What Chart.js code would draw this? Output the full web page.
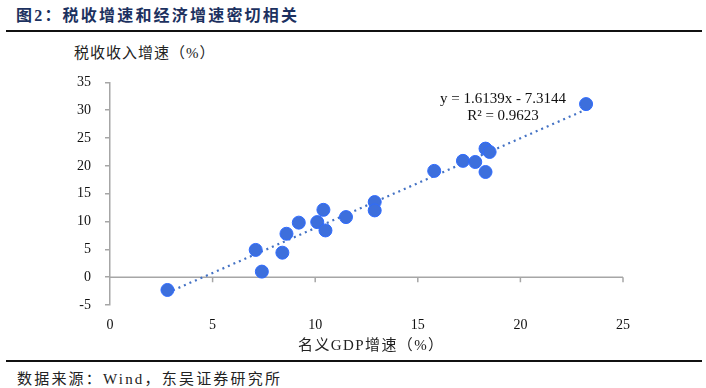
<!DOCTYPE html>
<html lang="zh">
<head>
<meta charset="UTF-8" />
<title>税收增速和经济增速</title>
<script src="https://cdn.jsdelivr.net/npm/chart.js"></script>
<style>
  body { margin: 0; background: #fff; }
  .page { position: relative; width: 706px; height: 388px; overflow: hidden; font-family: "Liberation Serif", "Noto Sans CJK SC", serif; }
  .titulo { position: absolute; left: 16px; top: 2px; font-size: 16px; font-weight: bold; color: #1c3160; letter-spacing: 2.2px; }
  .linha { position: absolute; left: 6px; right: 4px; height: 2px; background: #111; }
  .ytitle { position: absolute; left: 74px; top: 41px; font-size: 15px; color: #222; letter-spacing: 1px; }
  .xtitle { position: absolute; left: 298px; top: 333px; font-size: 15px; color: #222; letter-spacing: 1.4px; }
  .eq { position: absolute; left: 430px; top: 90px; width: 146px; text-align: center; font-size: 15px; line-height: 17px; color: #111; }
  .fonte { position: absolute; left: 17px; top: 367px; font-size: 15px; color: #222; letter-spacing: 2.2px; }
  .grafico { position: absolute; left: 0; top: 60px; width: 706px; height: 300px; }
</style>
</head>
<body>
<div class="page">
  <div class="titulo">图2：税收增速和经济增速密切相关</div>
  <div class="linha" style="top:30px"></div>
  <div class="ytitle">税收收入增速（%）</div>
  <div class="grafico"><canvas id="scatterChart"></canvas></div>
  <div class="eq">y = 1.6139x - 7.3144<br />R² = 0.9623</div>
  <div class="xtitle">名义GDP增速（%）</div>
  <div class="linha" style="top:360px"></div>
  <div class="fonte">数据来源：Wind，东吴证券研究所</div>
</div>

<script>
  // dados
  const gdpGrowth = [2.8, 7.1, 7.4, 8.4, 8.6, 9.2, 10.1, 10.4, 10.5, 11.5, 12.9, 12.9, 15.8, 17.2, 17.8, 18.3, 18.5, 18.3, 23.2];
  const taxGrowth = [-2.3, 4.9, 1.0, 4.4, 7.8, 9.8, 9.9, 12.1, 8.4, 10.8, 13.5, 12.0, 19.1, 20.9, 20.7, 23.1, 22.5, 18.9, 31.1];
  const xTicks = [0, 5, 10, 15, 20, 25];
  const yTicks = [-5, 0, 5, 10, 15, 20, 25, 30, 35];
  const slope = 1.6139;
  const intercept = -7.3144;

  const pontos = gdpGrowth.map((x, i) => ({ x: x, y: taxGrowth[i] }));
  const xMin = Math.min(...gdpGrowth);
  const xMax = Math.max(...gdpGrowth);
  const tendencia = [
    { x: xMin, y: slope * xMin + intercept },
    { x: xMax, y: slope * xMax + intercept },
  ];

  // linha do zero com tracinhos
  const zeroLine = {
    id: "zeroLine",
    beforeDatasetsDraw(chart) {
      const { ctx, scales } = chart;
      const y0 = scales.y.getPixelForValue(0);
      ctx.save();
      ctx.strokeStyle = "#a6a6a6";
      ctx.lineWidth = 1.5;
      ctx.beginPath();
      ctx.moveTo(scales.x.left, y0);
      ctx.lineTo(scales.x.right, y0);
      xTicks.slice(1).forEach((t) => {
        const px = scales.x.getPixelForValue(t);
        ctx.moveTo(px, y0);
        ctx.lineTo(px, y0 + 5);
      });
      ctx.stroke();
      ctx.restore();
    },
  };

  const serif = { family: "'Liberation Serif', serif", size: 14 };

  const ctx = document.getElementById("scatterChart").getContext("2d");
  new Chart(ctx, {
    type: "scatter",
    data: {
      datasets: [
        {
          label: "税收收入增速",
          data: pontos,
          backgroundColor: "#3d6fdc",
          borderColor: "#2f6bff",
          borderWidth: 1,
          pointRadius: 6.5,
          order: 1,
        },
        {
          type: "line",
          label: "趋势线",
          data: tendencia,
          borderColor: "#4472c4",
          borderWidth: 2.2,
          borderDash: [2, 4],
          pointRadius: 0,
          fill: false,
          order: 2,
        },
      ],
    },
    options: {
      responsive: true,
      maintainAspectRatio: false,
      animation: false,
      layout: { padding: { left: 0, right: 83, top: 18, bottom: 0 } },
      plugins: {
        legend: { display: false },
        tooltip: { enabled: false },
      },
      scales: {
        x: {
          type: "linear",
          min: 0,
          max: 25,
          afterBuildTicks: (s) => { s.ticks = xTicks.map((v) => ({ value: v })); },
          afterFit: (s) => { s.height = 55; },
          grid: { display: false },
          border: { display: false },
          ticks: { color: "#111", font: serif, padding: 4, maxRotation: 0 },
        },
        y: {
          min: -5,
          max: 35,
          afterBuildTicks: (s) => { s.ticks = yTicks.map((v) => ({ value: v })); },
          afterFit: (s) => { s.width = 110; },
          grid: { drawOnChartArea: false, color: "#a6a6a6", tickLength: 5, lineWidth: 1.5 },
          border: { color: "#a6a6a6", width: 1.5 },
          ticks: { color: "#111", font: serif, padding: 14 },
        },
      },
    },
    plugins: [zeroLine],
  });
</script>
</body>
</html>
